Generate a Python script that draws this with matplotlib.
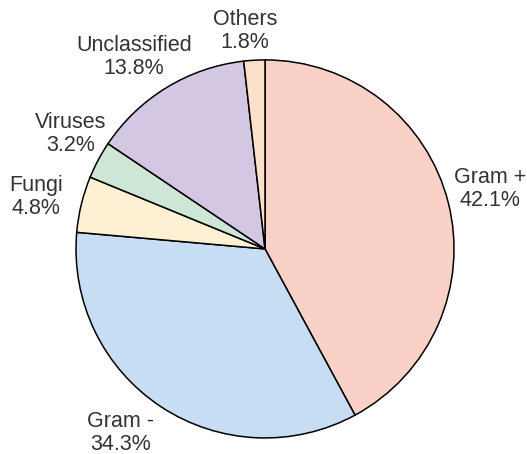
import numpy as np
from matplotlib import pyplot as plt

plt.rcParams['font.family'] = ['Liberation Sans', 'DejaVu Sans']

labels = ['Gram +', 'Gram -', 'Fungi', 'Viruses', 'Unclassified', 'Others']
values = [42.1, 34.3, 4.8, 3.2, 13.8, 1.8]
colors = ['#f9d1c7', '#c6ddf3', '#fef0d2', '#cde6d6', '#d3c7e3', '#fde0ca']
# label centres, in units of pie radius
lab_pos = [(1.19, 0.317), (-0.762, -0.974), (-1.212, 0.275),
           (-1.026, 0.608), (-0.693, 1.016), (-0.106, 1.153)]

fig = plt.figure(figsize=(5.27, 4.54), dpi=100)
ax = fig.add_axes([0, 0, 1, 1])
ax.pie(values, colors=colors, startangle=90, counterclock=False,
       wedgeprops=dict(edgecolor='black', linewidth=1.1))
for lab, v, (x, y) in zip(labels, values, lab_pos):
    ax.text(x, y, f'{lab}\n{v}%', ha='center', va='center', fontsize=15.5,
            color='#333333', linespacing=1.1)
ax.set_xlim(-1.402, 1.386)
ax.set_ylim(-1.085, 1.317)
ax.set_aspect('equal')
ax.axis('off')
fig.savefig('out.png', dpi=100)
